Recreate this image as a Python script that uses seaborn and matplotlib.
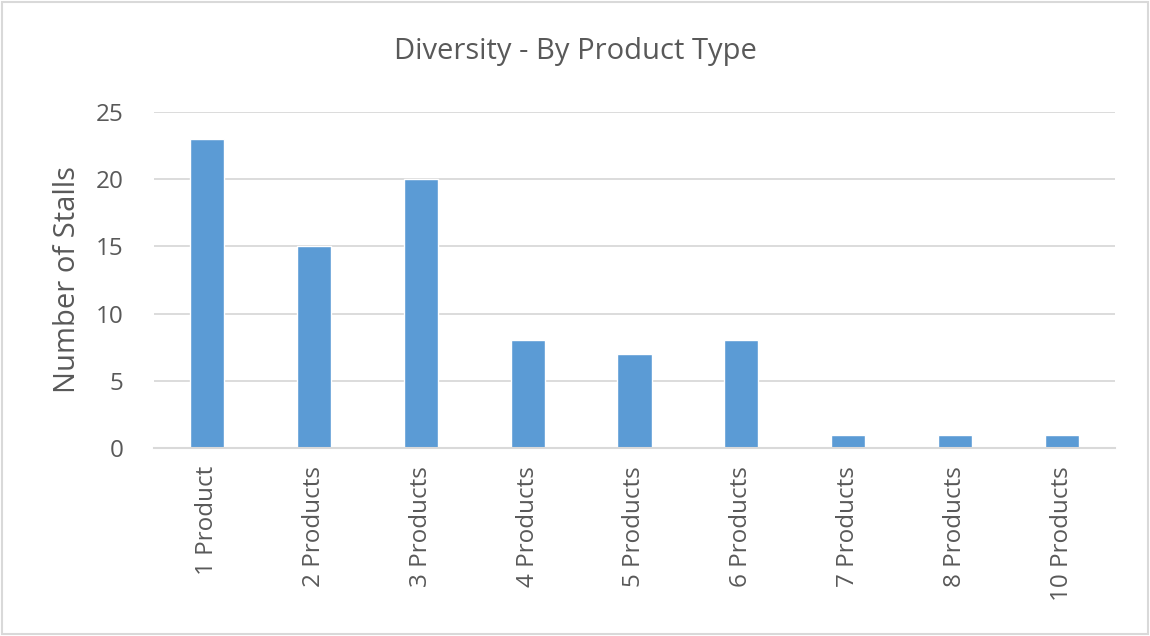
import matplotlib
matplotlib.use("Agg")
import matplotlib.pyplot as plt
import seaborn as sns
import pandas as pd
from matplotlib.patches import Rectangle

categories = ["1 Product", "2 Products", "3 Products", "4 Products", "5 Products",
              "6 Products", "7 Products", "8 Products", "10 Products"]
values = [23, 15, 20, 8, 7, 8, 1, 1, 1]
yticks = [0, 5, 10, 15, 20, 25]

df = pd.DataFrame({"cat": categories, "val": values})

sns.set_theme(style="white")
plt.rcParams['font.family'] = ['Open Sans', 'DejaVu Sans']
txt = "#595959"

fig = plt.figure(figsize=(11.5, 6.36), dpi=100)
ax = fig.add_axes([154/1150, 1-448/636, (1115-154)/1150, (448-112)/636])
sns.barplot(data=df, x="cat", y="val", color="#5B9BD5", width=0.32, ax=ax, saturation=1)

ax.set_ylim(0, 25)
ax.set_yticks(yticks)
ax.set_xlim(-0.5, len(categories) - 0.5)
ax.yaxis.grid(True, color="#D9D9D9", linewidth=1.3)
ax.set_axisbelow(True)
for s in ["top", "right", "left"]:
    ax.spines[s].set_visible(False)
ax.spines["bottom"].set_color("#D9D9D9")
ax.spines["bottom"].set_linewidth(1.5)
ax.tick_params(axis="y", length=0, labelsize=17.5, colors=txt, pad=22)
ax.tick_params(axis="x", length=0, labelsize=17.5, colors=txt, pad=13)
plt.setp(ax.get_xticklabels(), rotation=90)
ax.set_xlabel("")
ax.set_ylabel("Number of Stalls", fontsize=21, color=txt)
ax.yaxis.set_label_coords(-(154 - 82) / (1115 - 154), 0.5)
fig.text(0.5, 1-52/636, "Diversity - By Product Type", ha="center", va="center",
         fontsize=21, color=txt)
fig.patches.append(Rectangle((0.002, 0.003), 0.996, 0.994, transform=fig.transFigure,
                             fill=False, edgecolor="#D9D9D9", linewidth=1.5))
fig.savefig("out.png", dpi=100)
